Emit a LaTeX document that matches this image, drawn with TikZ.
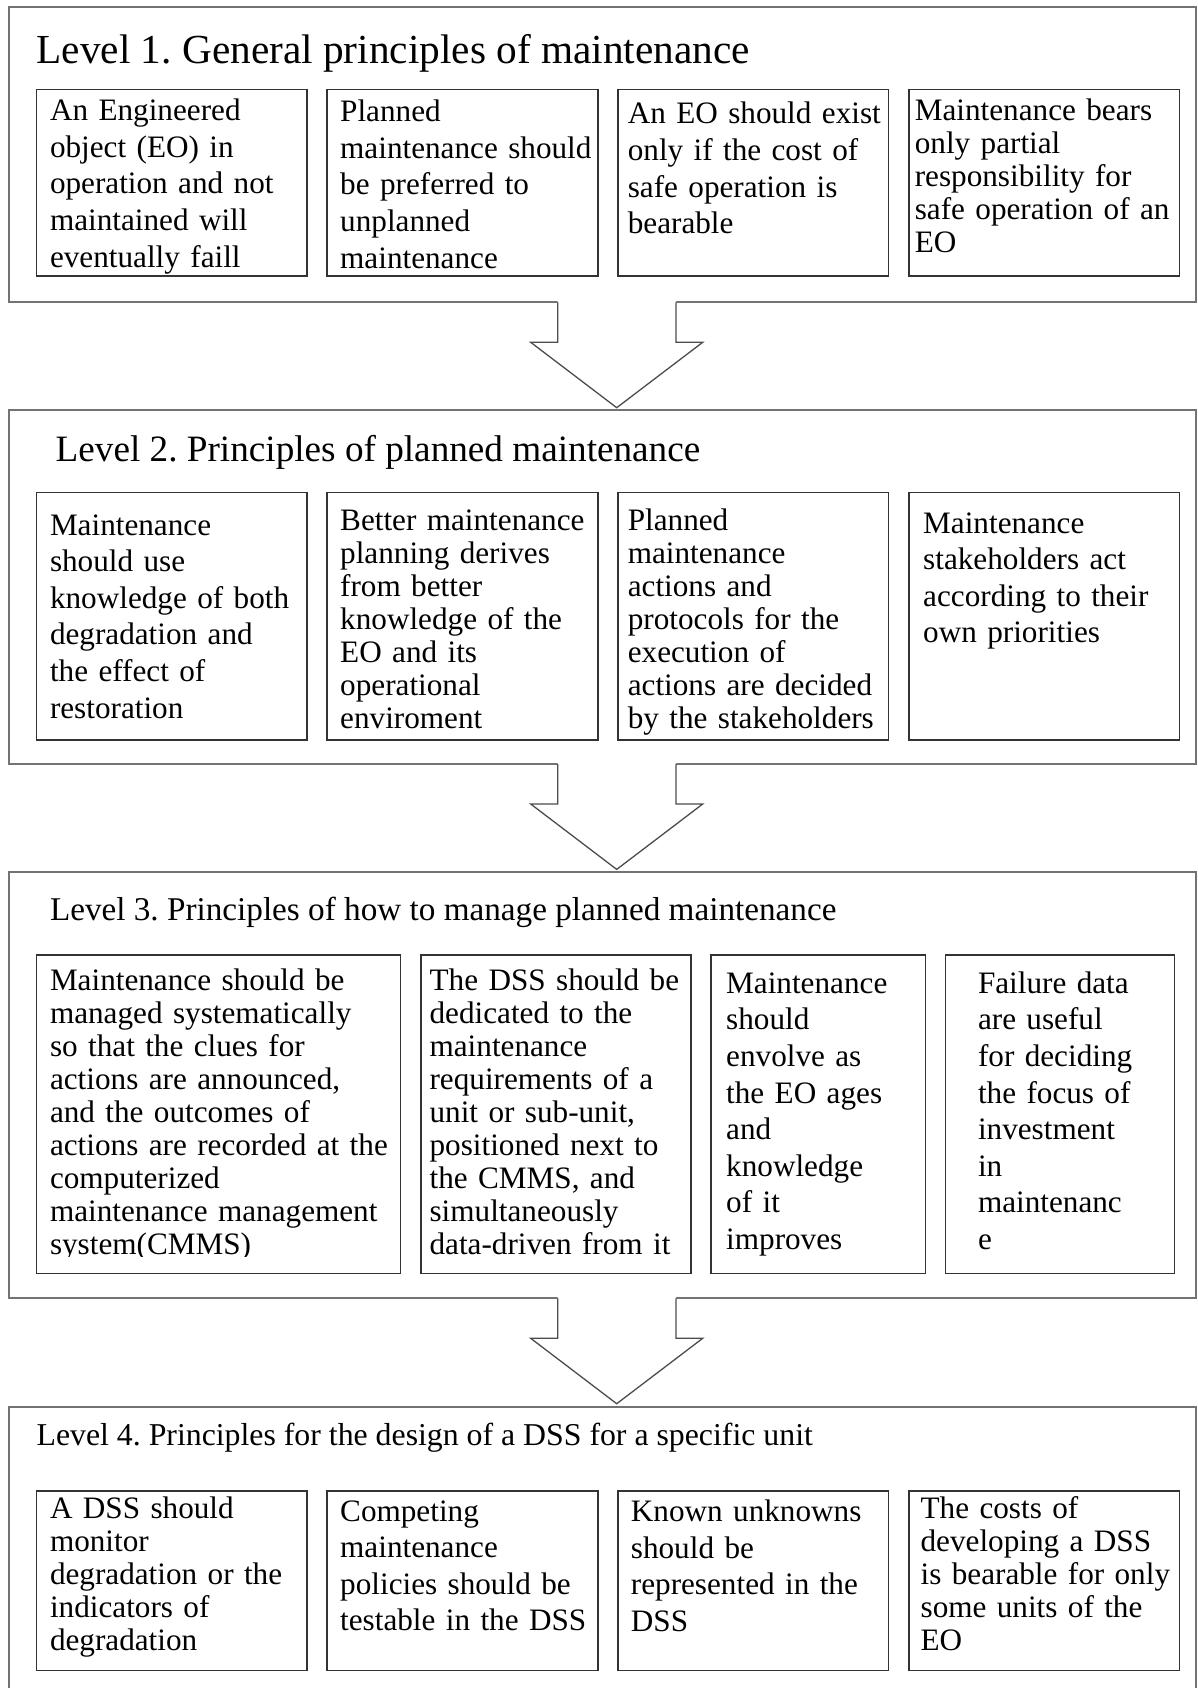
\documentclass[tikz,border=0pt]{standalone}
\usepackage{fontspec}
\setmainfont{Liberation Serif}
\frenchspacing
\usetikzlibrary{fit}
\tikzset{
  outerbox/.style={draw=black!55, line width=2pt, fill=none, inner sep=0pt},
  innerbox/.style={draw=black!80, line width=1.5pt, inner sep=0pt},
  arrowline/.style={draw=black!70, line width=1.3pt, line join=miter},
  txt/.style={anchor=base west, inner sep=0pt, align=left, text width=420pt},
  tA/.style={txt, font=\fontsize{31.2}{36.6}\selectfont\frenchspacing},
  tB/.style={txt, font=\fontsize{31.2}{33}\selectfont\frenchspacing},
  ttl/.style={anchor=base west, inner sep=0pt},
}
\newcommand\downarrowshape[1]{%
  \fill[white] (557.7,#1-1.6) -- (557.7,#1+40) -- (530.7,#1+40) -- (616.7,#1+105.4)
     -- (702.7,#1+40) -- (676,#1+40) -- (676,#1-1.6) -- cycle;
  \draw[arrowline] (557.7,#1) -- (557.7,#1+40) -- (530.7,#1+40) -- (616.7,#1+105.4)
     -- (702.7,#1+40) -- (676,#1+40) -- (676,#1);
}
\begin{document}
\begin{tikzpicture}[x=1pt,y=-1pt]
\clip (0,0) rectangle (1197,1688);

% ---------------- Level 1
\node[outerbox, fit={(8.5,7)(1195.5,302.3)}] (L1) {};
\node[ttl, font=\fontsize{41.3}{48}\selectfont\frenchspacing] (T1) at (36.4,63.3) {Level 1. General principles of maintenance};
\node[innerbox, fit={(36.4,89.3)(307,276)}] (b11) {};
\node[innerbox, fit={(327,89.3)(598,276)}] (b12) {};
\node[innerbox, fit={(618,89.3)(888.6,276)}] (b13) {};
\node[innerbox, fit={(909,89.3)(1179.5,276)}] (b14) {};
\node[tA] (x11) at (49.8,120.7) {An Engineered\\object (EO) in\\operation and not\\maintained will\\eventually faill};
\node[tA] (x12) at (340,121.7) {Planned\\maintenance should\\be preferred to\\unplanned\\maintenance};
\node[tA] (x13) at (627.6,124) {An EO should exist\\only if the cost of\\safe operation is\\bearable};
\node[tB] (x14) at (914.6,120.7) {Maintenance bears\\only partial\\responsibility for\\safe operation of an\\EO};

% ---------------- Level 2
\node[outerbox, fit={(8.5,410)(1195.5,764)}] (L2) {};
\node[ttl, font=\fontsize{37.2}{42}\selectfont\frenchspacing] (T2) at (55.5,461) {Level 2. Principles of planned maintenance};
\node[innerbox, fit={(36.4,492.7)(307,740)}] (b21) {};
\node[innerbox, fit={(327,492.7)(598,740)}] (b22) {};
\node[innerbox, fit={(618,492.7)(888.6,740)}] (b23) {};
\node[innerbox, fit={(909,492.7)(1179.5,740)}] (b24) {};
\node[tA] (x21) at (49.8,535) {Maintenance\\should use\\knowledge of both\\degradation and\\the effect of\\restoration};
\node[tB] (x22) at (340,530) {Better maintenance\\planning derives\\from better\\knowledge of the\\EO and its\\operational\\enviroment};
\node[tB] (x23) at (627.6,530) {Planned\\maintenance\\actions and\\protocols for the\\execution of\\actions are decided\\by the stakeholders};
\node[tA] (x24) at (923,533) {Maintenance\\stakeholders act\\according to their\\own priorities};

% ---------------- Level 3
\node[outerbox, fit={(8.5,872)(1195.5,1298.3)}] (L3) {};
\node[ttl, font=\fontsize{33.2}{40}\selectfont\frenchspacing] (T3) at (49.8,920) {Level 3. Principles of how to manage planned maintenance};
\node[innerbox, fit={(36.4,955)(400.5,1273.3)}] (b31) {};
\node[innerbox, fit={(421,955)(691,1273.3)}] (b32) {};
\node[innerbox, fit={(711,955)(925.5,1273.3)}] (b33) {};
\node[innerbox, fit={(945.3,955)(1174.5,1273.3)}] (b34) {};
\begin{scope}
\clip (36.4,955) rectangle (400.5,1256.5);
\node[tB] (x31) at (49.8,990.5) {Maintenance should be\\managed systematically\\so that the clues for\\actions are announced,\\and the outcomes of\\actions are recorded at the\\computerized\\maintenance management\\system(CMMS)};
\end{scope}
\node[tB] (x32) at (429.4,990.5) {The DSS should be\\dedicated to the\\maintenance\\requirements of a\\unit or sub-unit,\\positioned next to\\the CMMS, and\\simultaneously\\data-driven from it};
\node[tA] (x33) at (726,993.3) {Maintenance\\should\\envolve as\\the EO ages\\and\\knowledge\\of it\\improves};
\node[tA] (x34) at (977.8,993.3) {Failure data\\are useful\\for deciding\\the focus of\\investment\\in\\maintenanc\\e};

% ---------------- Level 4
\node[outerbox, fit={(8.5,1406.7)(1195.5,1720)}] (L4) {};
\node[ttl, font=\fontsize{31.8}{37}\selectfont\frenchspacing] (T4) at (36.4,1445) {Level 4. Principles for the design of a DSS for a specific unit};
\node[innerbox, fit={(36.4,1491)(307,1670.7)}] (b41) {};
\node[innerbox, fit={(327,1491)(598,1670.7)}] (b42) {};
\node[innerbox, fit={(618,1491)(888.6,1670.7)}] (b43) {};
\node[innerbox, fit={(909,1491)(1179.5,1670.7)}] (b44) {};
\node[tB] (x41) at (49.8,1518.5) {A DSS should\\monitor\\degradation or the\\indicators of\\degradation};
\node[tA] (x42) at (340,1521) {Competing\\maintenance\\policies should be\\testable in the DSS};
\node[tA] (x43) at (630.7,1521.5) {Known unknowns\\should be\\represented in the\\DSS};
\node[tB] (x44) at (920.4,1518.3) {The costs of\\developing a DSS\\is bearable for only\\some units of the\\EO};

% ---------------- block arrows
\downarrowshape{302.3}
\downarrowshape{764}
\downarrowshape{1298.3}
\end{tikzpicture}
\end{document}
